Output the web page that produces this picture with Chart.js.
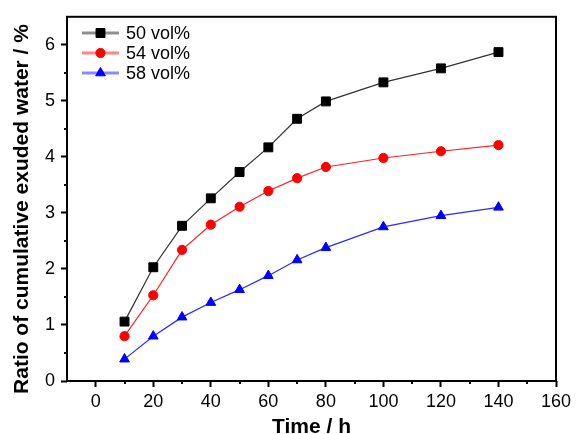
<!DOCTYPE html>
<html>
<head>
<meta charset="utf-8">
<script src="https://cdn.jsdelivr.net/npm/chart.js@4.4.1/dist/chart.umd.min.js"></script>
<style>
    html, body { margin: 0; padding: 0; background: #fff; }
</style>
</head>
<body>
<canvas id="exudedChart" width="577" height="434"></canvas>
<script>
    'use strict';

    // values
    var hours = [10, 20, 30, 40, 50, 60, 70, 80, 100, 120, 140];
    var vol50 = [1.06, 2.03, 2.77, 3.26, 3.73, 4.17, 4.68, 4.99, 5.33, 5.58, 5.87];
    var vol54 = [0.80, 1.53, 2.34, 2.79, 3.11, 3.39, 3.62, 3.82, 3.98, 4.10, 4.21];
    var vol58 = [0.39, 0.80, 1.14, 1.40, 1.63, 1.88, 2.16, 2.38, 2.75, 2.95, 3.10];
    var seriesLabels = ['50 vol%', '54 vol%', '58 vol%'];
    var xTicks = [0, 20, 40, 60, 80, 100, 120, 140, 160];
    var xMinorTicks = [10, 30, 50, 70, 90, 110, 130, 150];
    var yTicks = [0, 1, 2, 3, 4, 5, 6];
    var yMinorTicks = [0.5, 1.5, 2.5, 3.5, 4.5, 5.5];
    var xTitle = 'Time / h';
    var yTitle = 'Ratio of cumulative exuded water / %';

    var fontFamily = '"Liberation Sans", Arial, sans-serif';

    function toPoints(values) {
        return hours.map(function (h, i) { return { x: h, y: values[i] }; });
    }

    var frameAndExtras = {
        id: 'frameAndExtras',
        afterDraw: function (chart) {
            var ctx = chart.ctx;
            var area = chart.chartArea;
            var xs = chart.scales.x;
            var ys = chart.scales.y;

            ctx.save();
            ctx.strokeStyle = '#000';
            ctx.lineWidth = 2;
            ctx.strokeRect(area.left, area.top, area.right - area.left, area.bottom - area.top);

            // minor ticks
            ctx.beginPath();
            xMinorTicks.forEach(function (v) {
                var px = Math.round(xs.getPixelForValue(v));
                ctx.moveTo(px, area.bottom);
                ctx.lineTo(px, area.bottom + 3);
            });
            yMinorTicks.forEach(function (v) {
                var py = Math.round(ys.getPixelForValue(v));
                ctx.moveTo(area.left, py);
                ctx.lineTo(area.left - 3, py);
            });
            ctx.stroke();

            // legend
            ctx.font = '18px ' + fontFamily;
            ctx.textBaseline = 'middle';
            ctx.textAlign = 'left';
            chart.data.datasets.forEach(function (ds, i) {
                var y = 33 + i * 20;
                ctx.save();
                ctx.globalAlpha = 0.55;
                ctx.strokeStyle = ds.borderColor;
                ctx.lineWidth = 3;
                ctx.beginPath();
                ctx.moveTo(82, y);
                ctx.lineTo(119, y);
                ctx.stroke();
                ctx.restore();
                ctx.fillStyle = ds.pointBackgroundColor;
                ctx.strokeStyle = ds.pointBackgroundColor;
                ctx.lineWidth = 1;
                Chart.helpers.drawPoint(ctx, {
                    pointStyle: ds.pointStyle,
                    radius: ds.pointRadius,
                    rotation: 0,
                    borderWidth: 1
                }, 100.5, y);
                ctx.fillStyle = '#000';
                ctx.fillText(ds.label, 126, y + 1);
            });

            // axis titles
            ctx.fillStyle = '#000';
            ctx.font = 'bold 21px ' + fontFamily;
            ctx.textAlign = 'center';
            ctx.textBaseline = 'alphabetic';
            ctx.fillText(xTitle, (area.left + area.right) / 2, 433);
            ctx.translate(28, 209);
            ctx.rotate(-Math.PI / 2);
            ctx.fillText(yTitle, 0, 0);
            ctx.restore();
        }
    };

    function makeDataset(label, values, color, lineColor, style, radius) {
        return {
            label: label,
            data: toPoints(values),
            borderColor: lineColor,
            borderWidth: 1.2,
            pointStyle: style,
            pointRadius: radius,
            pointBackgroundColor: color,
            pointBorderColor: color,
            pointBorderWidth: 1,
            tension: 0,
            fill: false
        };
    }

    new Chart(document.getElementById('exudedChart'), {
        type: 'line',
        data: {
            datasets: [
                makeDataset(seriesLabels[0], vol50, '#000000', '#333333', 'rect', 6.3),
                makeDataset(seriesLabels[1], vol54, '#ff0000', '#ff2020', 'circle', 4.6),
                makeDataset(seriesLabels[2], vol58, '#0000ff', '#2a2aff', 'triangle', 5.6)
            ]
        },
        options: {
            responsive: false,
            animation: false,
            layout: {
                padding: { left: 0, top: 15, right: 21, bottom: 0 }
            },
            plugins: {
                legend: { display: false },
                tooltip: { enabled: false }
            },
            scales: {
                x: {
                    type: 'linear',
                    min: -10,
                    max: 160,
                    afterBuildTicks: function (scale) {
                        scale.ticks = xTicks.map(function (v) { return { value: v }; });
                    },
                    afterFit: function (scale) {
                        scale.height = 53;
                    },
                    border: { display: false },
                    grid: {
                        drawOnChartArea: false,
                        drawTicks: true,
                        tickLength: 6,
                        tickWidth: 2,
                        tickColor: '#000'
                    },
                    ticks: {
                        color: '#000',
                        padding: 4,
                        maxRotation: 0,
                        autoSkip: false,
                        font: { family: fontFamily, size: 18 }
                    }
                },
                y: {
                    type: 'linear',
                    min: 0,
                    max: 6.5,
                    afterBuildTicks: function (scale) {
                        scale.ticks = yTicks.map(function (v) { return { value: v }; });
                    },
                    afterFit: function (scale) {
                        scale.width = 67;
                    },
                    border: { display: false },
                    grid: {
                        drawOnChartArea: false,
                        drawTicks: true,
                        tickLength: 6,
                        tickWidth: 2,
                        tickColor: '#000'
                    },
                    ticks: {
                        color: '#000',
                        padding: 6,
                        autoSkip: false,
                        font: { family: fontFamily, size: 18 }
                    }
                }
            }
        },
        plugins: [frameAndExtras]
    });
</script>
</body>
</html>
